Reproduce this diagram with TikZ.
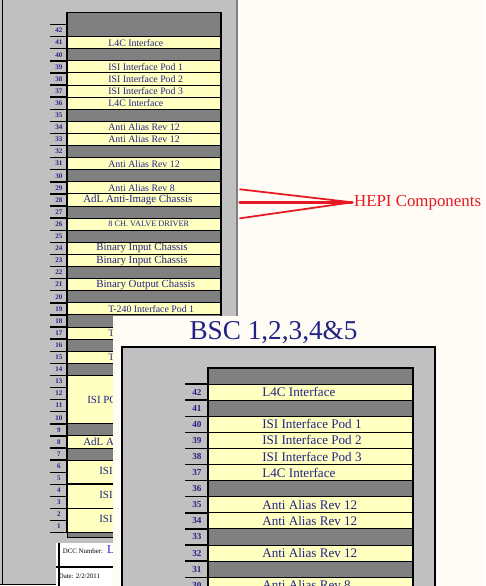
\documentclass[tikz,border=0pt]{standalone}
\usepackage{fontspec}
\setmainfont{Liberation Serif}
\usepackage{tikz}
\usetikzlibrary{calc}
\definecolor{paper}{RGB}{255,251,245}
\definecolor{panelgray}{RGB}{192,192,192}
\definecolor{slotgray}{RGB}{128,128,128}
\definecolor{slotyellow}{RGB}{255,255,192}
\definecolor{rackblue}{RGB}{35,35,135}
\definecolor{idblue}{RGB}{30,30,200}
\definecolor{hepired}{RGB}{230,25,35}

\begin{document}
\begin{tikzpicture}[x=0.02cm, y=-0.02cm,
    rule/.style={black, line width=0.5pt},
    numrule/.style={black, line width=0.8pt},
    unitA/.style={anchor=west, inner sep=0pt, text=rackblue, font=\fontsize{5.6}{6.5}\selectfont},
    unitAbig/.style={unitA, font=\fontsize{6.2}{7}\selectfont},
    unitAcaps/.style={unitA, font=\fontsize{4.7}{5.5}\selectfont},
    unitB/.style={anchor=west, inner sep=0pt, text=rackblue, font=\fontsize{7.45}{8.5}\selectfont},
    slotnum/.style={inner sep=0pt, text=rackblue, font=\bfseries\fontsize{4}{4}\selectfont},
    slotnumB/.style={slotnum, font=\bfseries\fontsize{5.2}{5.2}\selectfont},
    dcc/.style={anchor=west, inner sep=0pt, font=\fontsize{3.9}{4.5}\selectfont},
    hepi/.style={anchor=west, inner sep=1pt, text=hepired, font=\fontsize{9.6}{11}\selectfont},
    hepi line/.style={hepired, line width=1pt, line cap=round},
    ]
    \clip (0,0) rectangle (485,586);
    \fill[paper] (0,0) rectangle (485,586);

    \fill[panelgray] (0,-5) rectangle (237,584.5);
    \draw[black, line width=0.6pt] (2.7,-5) -- (2.7,584.5);
    \draw[black, line width=0.6pt] (0,584.5) -- (237,584.5);
    \draw[slotgray, line width=0.6pt] (237,-5) -- (237,584.5);

    \fill[slotyellow] (67,36.7) rectangle (221,532.7);
    \fill[slotgray] (67,12.3) rectangle (221,36.7);
    \foreach \k in {40,35,32,30,27,25,22,20,18,16,14,9,7}
        \fill[slotgray] (67,{532.7-12.1*\k}) rectangle (221,{544.8-12.1*\k});
    \foreach \k in {13,...,41,9,8,7,6}
        \draw[rule] (67,{532.7-12.1*\k}) -- (221,{532.7-12.1*\k});
    \foreach \k in {4,2}
        \draw[black, line width=1pt] (67,{532.7-12.1*\k}) -- (221,{532.7-12.1*\k});
    \filldraw[fill=slotgray, draw=black, line width=0.5pt] (67,532.7) rectangle (221,537.5);
    \draw[black, line width=0.6pt] (67,12.3) rectangle (221,532.7);

    \foreach \k in {1,...,42}{
        \pgfmathsetmacro{\yt}{532.7-12.1*\k}
        \draw[numrule] (50,\yt) -- (67,\yt);
        \node[slotnum] (na\k) at (59,{\yt+6.05}) {\k};
    }
    \draw[numrule] (50,532.7) -- (67,532.7);

    \foreach \k/\txt in {41/L4C Interface, 39/ISI Interface Pod 1, 38/ISI Interface Pod 2,
        37/ISI Interface Pod 3, 36/L4C Interface, 34/Anti Alias Rev 12, 33/Anti Alias Rev 12,
        31/Anti Alias Rev 12, 29/Anti Alias Rev 8, 19/T-240 Interface Pod 1, 17/T, 15/T}
        \node[unitA] (a\k) at (108,{538.75-12.1*\k}) {\txt};
    \node[unitAcaps] (a26) at (108,{538.75-12.1*26}) {8 CH. VALVE DRIVER};
    \foreach \k/\txt in {24/Binary Input Chassis, 23/Binary Input Chassis, 21/Binary Output Chassis}
        \node[unitAbig] (a\k) at (96,{538.75-12.1*\k}) {\txt};
    \node[unitAbig] (a28) at (83,{538.75-12.1*28}) {AdL Anti-Image Chassis};
    \node[unitAbig] (a8) at (83,{538.75-12.1*8}) {AdL A};
    \node[unitAbig] (a13) at (87,399.6) {ISI PC};
    \node[unitAbig] (a6) at (99,471) {ISI};
    \node[unitAbig] (a4) at (99,494.5) {ISI};
    \node[unitAbig] (a2) at (99,518.5) {ISI};

    \fill[white] (56,542.5) rectangle (237,590);
    \draw[black, line width=0.6pt] (59,542.5) -- (59,590);
    \draw[black, line width=0.6pt] (56,567) -- (237,567);
    \node[dcc] (dccnum) at (62.5,551.5) {DCC Number:};
    \node[anchor=base west, inner sep=0pt, text=idblue, font=\fontsize{6.8}{7}\selectfont]
        (dccid) at ([xshift=2pt]dccnum.base east) {L};
    \node[dcc] (dccdate) at (58.5,576) {Date: 2/2/2011};

    \node[hepi] (hepicomp) at (352,202.3) {HEPI Components};
    \coordinate (h29) at (240,189.3);
    \coordinate (h28) at (240,202.3);
    \coordinate (h27) at (240,218.3);
    \draw[hepi line] (h29) -- (hepicomp.west);
    \draw[hepi line, line width=2pt] (h28) -- (hepicomp.west);
    \draw[hepi line] (h27) -- (hepicomp.west);

    \fill[paper] (113,316) rectangle (485,586);
    \node[inner sep=0pt, text=rackblue, font=\fontsize{15.5}{17}\selectfont] (bsc) at (273.5,333) {BSC 1,2,3,4\&5};
    \filldraw[fill=panelgray, draw=black, line width=0.8pt] (122,347) rectangle (435,600);
    \fill[slotyellow] (208,384) rectangle (413,600);
    \fill[slotgray] (208,368) rectangle (413,384);
    \foreach \k in {41,36,33,31}
        \fill[slotgray] (208,{1060.2-16.1*\k}) rectangle (413,{1076.3-16.1*\k});
    \foreach \k in {30,...,42}
        \draw[rule] (208,{1060.2-16.1*\k}) -- (413,{1060.2-16.1*\k});
    \draw[black, line width=0.6pt] (208,368) rectangle (413,600);

    \foreach \k in {30,...,42}{
        \pgfmathsetmacro{\yt}{1060.2-16.1*\k}
        \draw[numrule] (185,\yt) -- (208,\yt);
        \node[slotnumB] (nb\k) at (197,{\yt+8.05}) {\k};
    }

    \foreach \k/\txt in {42/L4C Interface, 40/ISI Interface Pod 1, 39/ISI Interface Pod 2,
        38/ISI Interface Pod 3, 37/L4C Interface, 35/Anti Alias Rev 12, 34/Anti Alias Rev 12,
        32/Anti Alias Rev 12, 30/Anti Alias Rev 8}
        \node[unitB] (b\k) at (262,{1068.25-16.1*\k}) {\txt};
\end{tikzpicture}
\end{document}
